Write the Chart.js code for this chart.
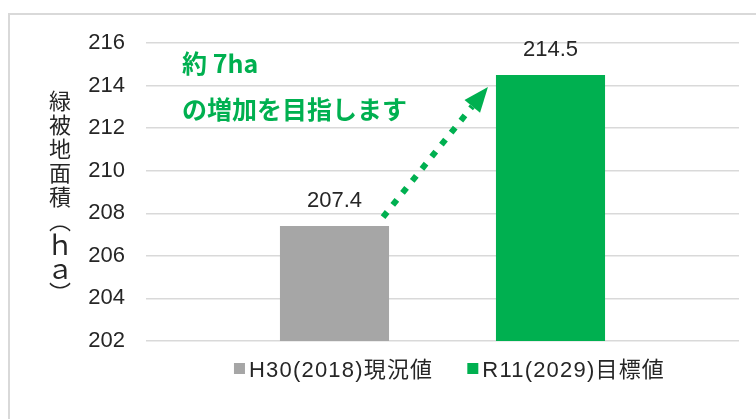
<!DOCTYPE html>
<html lang="ja">
<head>
<meta charset="UTF-8">
<title>緑被地面積</title>
<script src="https://cdn.jsdelivr.net/npm/chart.js@4.4.1/dist/chart.umd.min.js"></script>
<style>
  body { margin: 0; background: #fff; }
</style>
</head>
<body>
<canvas id="myChart" width="756" height="419"></canvas>
<script>
const seriesLabels = ["H30(2018)現況値", "R11(2029)目標値"];
const seriesValues = [207.4, 214.5];
const yTicks = [202, 204, 206, 208, 210, 212, 214, 216];
const yTitle = "緑被地面積（ｈａ）";
const noteLines = ["約 7ha", "の増加を目指します"];

const barColors = ["#a6a6a6", "#00b050"];
const green = "#00b050";
const textColor = "#262626";
const fontStack = "'Liberation Sans', 'Noto Sans CJK JP', sans-serif";

// frame, value labels, y title, note + arrow, legend
const extras = {
  id: "extras",
  beforeDraw(chart) {
    const ctx = chart.ctx;
    ctx.save();
    ctx.fillStyle = "#fff";
    ctx.fillRect(0, 0, chart.width, chart.height);
    ctx.strokeStyle = "#d9d9d9";
    ctx.lineWidth = 2;
    ctx.strokeRect(9, 14, chart.width + 20, chart.height + 20);
    ctx.restore();
  },
  afterDatasetsDraw(chart) {
    const ctx = chart.ctx;
    const area = chart.chartArea;
    const bars = chart.data.datasets.map((d, i) => chart.getDatasetMeta(i).data[0]);

    ctx.save();

    // value labels
    ctx.font = "22px " + fontStack;
    ctx.fillStyle = textColor;
    ctx.textAlign = "center";
    ctx.textBaseline = "alphabetic";
    bars.forEach((bar, i) => {
      ctx.fillText(String(seriesValues[i]), bar.x, bar.y - 19);
    });

    // y title, one character per line
    const vertical = { "（": "︵", "）": "︶" };
    const chars = Array.from(yTitle);
    const pitch = 24;
    const midY = (area.top + area.bottom) / 2 + 5;
    let y = midY - (pitch * (chars.length - 1)) / 2;
    ctx.textBaseline = "middle";
    chars.forEach((c) => {
      const latin = c === "ｈ" || c === "ａ";
      ctx.font = (latin ? "27px" : "22px") + " 'Noto Sans CJK JP', sans-serif";
      ctx.fillText(vertical[c] || c, 60, y);
      y += pitch;
    });

    // note
    ctx.font = "bold 25px 'Noto Sans CJK JP', sans-serif";
    ctx.fillStyle = green;
    ctx.textAlign = "left";
    ctx.fillText(noteLines[0], area.left + 36, area.top + 20);
    ctx.fillText(noteLines[1], area.left + 36, area.top + 66);

    // dotted arrow from the current bar to the target bar
    const a = bars[0], b = bars[1];
    const x0 = a.x + a.width / 2 - 6, y0 = a.y - 9;
    const x1 = b.x - b.width / 2 - 8, y1 = b.y + 12;
    const len = Math.hypot(x1 - x0, y1 - y0);
    const ux = (x1 - x0) / len, uy = (y1 - y0) / len;
    const head = 25, half = 10;
    const bx = x1 - ux * head, by = y1 - uy * head;

    ctx.strokeStyle = green;
    ctx.lineWidth = 6;
    ctx.lineCap = "butt";
    ctx.setLineDash([6.5, 9]);
    ctx.beginPath();
    ctx.moveTo(x0, y0);
    ctx.lineTo(bx, by);
    ctx.stroke();
    ctx.setLineDash([]);

    ctx.beginPath();
    ctx.moveTo(x1, y1);
    ctx.lineTo(bx - uy * half, by + ux * half);
    ctx.lineTo(bx + uy * half, by - ux * half);
    ctx.closePath();
    ctx.fill();

    // legend
    ctx.font = "22px " + fontStack;
    ctx.letterSpacing = "1.2px";
    ctx.textBaseline = "alphabetic";
    const box = 11, gap = 4, itemGap = 34;
    const widths = seriesLabels.map((t) => box + gap + ctx.measureText(t).width);
    const total = widths.reduce((s, w) => s + w, 0) + itemGap * (widths.length - 1);
    let lx = (area.left + area.right) / 2 + 7 - total / 2;
    const ly = area.bottom + 36;
    seriesLabels.forEach((t, i) => {
      ctx.fillStyle = barColors[i];
      ctx.fillRect(lx, ly - 14, box, box);
      ctx.fillStyle = textColor;
      ctx.fillText(t, lx + box + gap, ly);
      lx += widths[i] + itemGap;
    });

    ctx.restore();
  },
};

const myChart = document.getElementById("myChart").getContext("2d");

new Chart(myChart, {
  type: "bar",
  data: {
    labels: [""],
    datasets: seriesLabels.map((label, i) => ({
      label: label,
      data: [seriesValues[i]],
      backgroundColor: barColors[i],
      categoryPercentage: 0.7285,
      barPercentage: 0.505,
    })),
  },
  options: {
    responsive: false,
    animation: false,
    layout: {
      padding: { top: 43, right: 17, bottom: 78, left: 0 },
    },
    plugins: {
      legend: { display: false },
      tooltip: { enabled: false },
    },
    scales: {
      x: {
        display: false,
      },
      y: {
        min: 202,
        max: 216,
        afterFit: (scale) => {
          scale.width = 146;
        },
        afterBuildTicks: (scale) => {
          scale.ticks = yTicks.map((v) => ({ value: v }));
        },
        border: { display: false },
        grid: {
          color: "#d9d9d9",
          lineWidth: 1.5,
          drawTicks: false,
        },
        ticks: {
          padding: 21,
          color: textColor,
          font: { size: 22, family: fontStack },
        },
      },
    },
  },
  plugins: [extras],
});
</script>
</body>
</html>
